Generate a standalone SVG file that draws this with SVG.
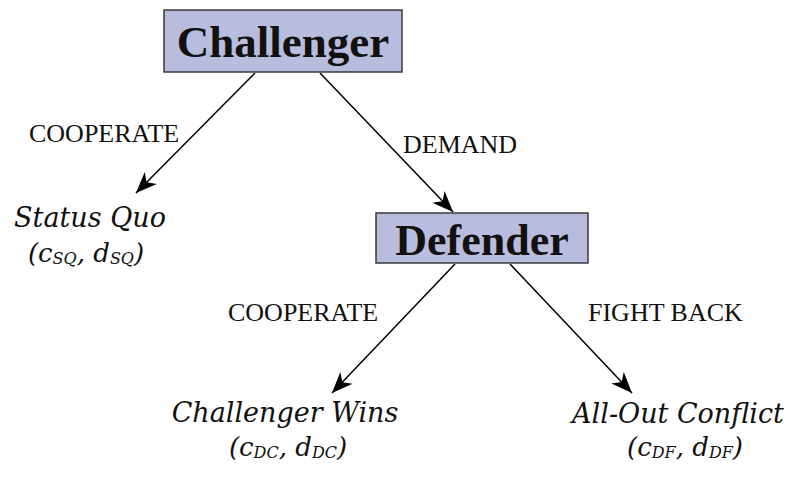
<svg xmlns="http://www.w3.org/2000/svg" width="790" height="477" viewBox="0 0 790 477">
<style>
.box{fill:#b9bddd;stroke:#3a3a3a;stroke-width:1.5}
.title{font-family:"Liberation Serif","Times New Roman",serif;font-weight:bold;fill:#111;text-anchor:middle}
.lbl{font-family:"Liberation Serif","Times New Roman",serif;font-size:26px;fill:#111}
.out{font-family:"DejaVu Serif",serif;font-style:italic;font-size:27px;fill:#111;text-anchor:middle}
.pay{font-family:"DejaVu Serif",serif;font-style:italic;font-size:26px;fill:#111;text-anchor:middle}
.sub{font-size:16px}
.edge{stroke:#000;stroke-width:1.5;fill:none;marker-end:url(#ah)}
</style>
<defs>
<marker id="ah" markerUnits="userSpaceOnUse" markerWidth="24" markerHeight="20" viewBox="-22 -10 24 20" refX="0" refY="0" orient="auto">
<path d="M0,0 L-21,-8.5 L-15,0 L-21,8.5 Z" fill="#000"/>
</marker>
</defs>
<rect width="790" height="477" fill="#fff"/>
<g id="connectors">
<line class="edge" x1="255" y1="73" x2="136" y2="193"/>
<line class="edge" x1="320" y1="73" x2="453" y2="212"/>
<line class="edge" x1="455" y1="264" x2="332" y2="393"/>
<line class="edge" x1="510" y1="264" x2="632" y2="393"/>
</g>
<g id="labels">
<text class="lbl" x="29" y="142">COOPERATE</text>
<text class="lbl" x="403" y="153">DEMAND</text>
<text class="lbl" x="228" y="321">COOPERATE</text>
<text class="lbl" x="588" y="321">FIGHT BACK</text>
</g>
<g id="challenger">
<rect class="box" x="164" y="10" width="238" height="62"/>
<text class="title" x="283" y="57" font-size="45">Challenger</text>
</g>
<g id="defender">
<rect class="box" x="376" y="213" width="212" height="50"/>
<text class="title" x="482" y="255" font-size="44">Defender</text>
</g>
<g id="status-quo">
<text class="out" x="90" y="227">Status Quo</text>
<text class="pay" x="86" y="262">(c<tspan class="sub" dy="2">SQ</tspan><tspan dy="-2">, d</tspan><tspan class="sub" dy="2">SQ</tspan><tspan dy="-2">)</tspan></text>
</g>
<g id="challenger-wins">
<text class="out" x="285" y="422">Challenger Wins</text>
<text class="pay" x="288" y="456">(c<tspan class="sub" dy="2">DC</tspan><tspan dy="-2">, d</tspan><tspan class="sub" dy="2">DC</tspan><tspan dy="-2">)</tspan></text>
</g>
<g id="all-out-conflict">
<text class="out" x="678" y="423">All-Out Conflict</text>
<text class="pay" x="685" y="456">(c<tspan class="sub" dy="2">DF</tspan><tspan dy="-2">, d</tspan><tspan class="sub" dy="2">DF</tspan><tspan dy="-2">)</tspan></text>
</g>
</svg>
